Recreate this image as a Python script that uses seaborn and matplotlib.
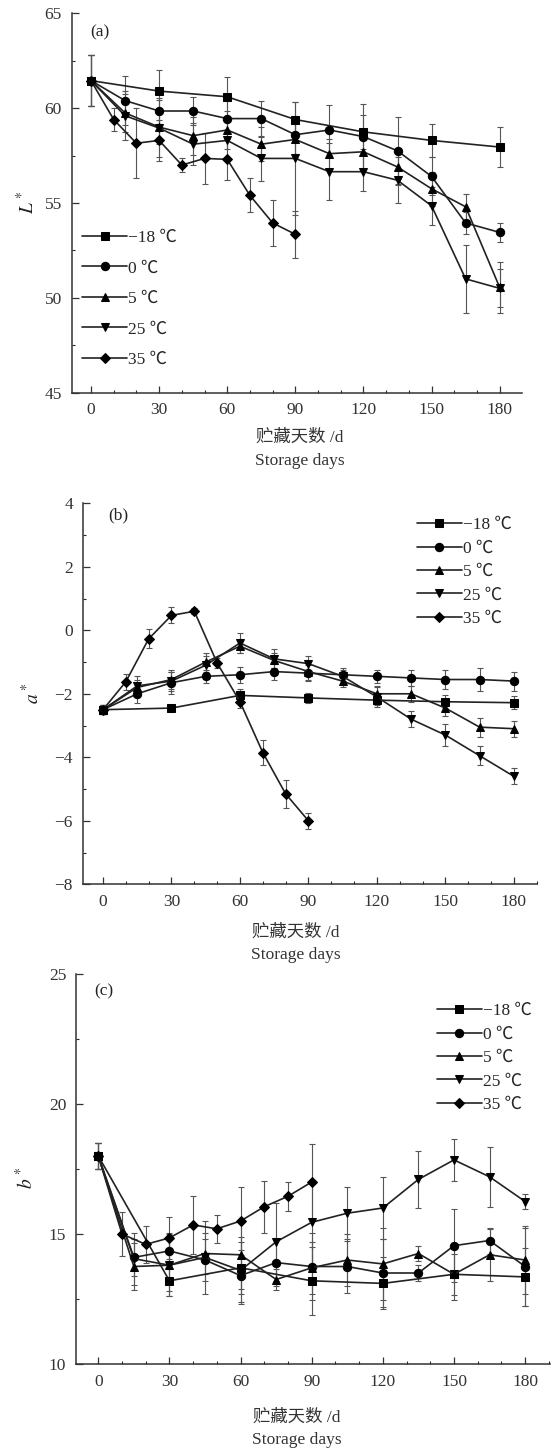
import numpy as np
import pandas as pd
import matplotlib
matplotlib.use("Agg")
import matplotlib.pyplot as plt
from matplotlib.ticker import MultipleLocator
import seaborn as sns

# --- storage days per series ---
DAYS_30 = [0, 30, 60, 90, 120, 150, 180]
DAYS_15 = [0, 15, 30, 45, 60, 75, 90, 105, 120, 135, 150, 165, 180]
DAYS_10 = [0, 10, 20, 30, 40, 50, 60, 70, 80, 90]

LABELS = ["−18 ℃", "0 ℃", "5 ℃", "25 ℃", "35 ℃"]

# --- (a) L* ---
L_M18 = [61.45, 60.9, 60.6, 59.4, 58.75, 58.3, 57.95]
L_0 = [61.45, 60.4, 59.85, 59.85, 59.45, 59.45, 58.6, 58.85, 58.5, 57.75, 56.4, 53.95, 53.45]
L_5 = [61.45, 59.75, 59.0, 58.55, 58.85, 58.1, 58.35, 57.6, 57.7, 56.9, 55.75, 54.8, 50.55]
L_25 = [61.45, 59.6, 58.95, 58.1, 58.3, 57.35, 57.35, 56.65, 56.65, 56.2, 54.85, 51.0, 50.5]
L_35 = [61.45, 59.4, 58.15, 58.3, 57.0, 57.35, 57.3, 55.4, 53.95, 53.35]

L_M18_SD = [1.35, 1.1, 1.05, 0.9, 0.9, 0.85, 1.05]
L_0_SD = [1.35, 1.3, 0.7, 0.75, 1.0, 0.95, 1.0, 1.3, 1.7, 1.8, 1.0, 0.6, 0.5]
L_5_SD = [1.35, 1.0, 0.9, 1.0, 1.0, 0.9, 1.0, 0.8, 0.9, 0.9, 0.9, 0.7, 1.35]
L_25_SD = [1.35, 1.3, 1.5, 1.1, 1.0, 1.2, 3.0, 1.5, 1.0, 1.2, 1.0, 1.8, 1.0]
L_35_SD = [1.35, 0.6, 1.85, 1.1, 0.35, 1.35, 1.1, 0.9, 1.2, 1.25]

# --- (b) a* ---
A_M18 = [-2.5, -2.45, -2.05, -2.13, -2.2, -2.25, -2.28]
A_0 = [-2.5, -2.0, -1.65, -1.45, -1.4, -1.3, -1.35, -1.4, -1.45, -1.5, -1.55, -1.55, -1.6]
A_5 = [-2.5, -1.8, -1.55, -1.0, -0.5, -0.95, -1.3, -1.6, -2.0, -2.0, -2.45, -3.05, -3.1]
A_25 = [-2.5, -1.75, -1.6, -1.1, -0.4, -0.9, -1.05, -1.45, -2.1, -2.8, -3.3, -3.95, -4.6]
A_35 = [-2.5, -1.62, -0.27, 0.47, 0.6, -1.03, -2.25, -3.85, -5.15, -6.0]

A_M18_SD = [0.15, 0.1, 0.2, 0.15, 0.15, 0.2, 0.2]
A_0_SD = [0.15, 0.3, 0.35, 0.2, 0.25, 0.25, 0.25, 0.2, 0.2, 0.25, 0.3, 0.35, 0.3]
A_5_SD = [0.15, 0.25, 0.3, 0.3, 0.2, 0.25, 0.25, 0.2, 0.25, 0.25, 0.25, 0.3, 0.25]
A_25_SD = [0.15, 0.3, 0.3, 0.3, 0.3, 0.3, 0.25, 0.2, 0.3, 0.25, 0.35, 0.3, 0.25]
A_35_SD = [0.15, 0.25, 0.3, 0.25, 0.1, 0.15, 0.2, 0.4, 0.45, 0.25]

# --- (c) b* ---
B_M18 = [18.0, 13.2, 13.7, 13.2, 13.1, 13.45, 13.35]
B_0 = [18.0, 14.1, 14.35, 14.0, 13.4, 13.9, 13.75, 13.75, 13.5, 13.5, 14.55, 14.75, 13.75]
B_5 = [18.0, 13.75, 13.8, 14.25, 14.2, 13.25, 13.7, 14.0, 13.85, 14.25, 13.45, 14.2, 14.0]
B_25 = [18.0, 14.05, 13.8, 14.1, 13.6, 14.7, 15.45, 15.8, 16.0, 17.1, 17.85, 17.2, 16.25]
B_35 = [18.0, 15.0, 14.6, 14.85, 15.35, 15.2, 15.5, 16.05, 16.45, 17.0]

B_M18_SD = [0.5, 0.6, 1.0, 1.3, 1.0, 0.8, 1.1]
B_0_SD = [0.5, 0.7, 0.7, 0.8, 1.0, 0.9, 1.3, 1.0, 1.3, 0.3, 1.4, 0.5, 1.5]
B_5_SD = [0.5, 0.9, 1.0, 0.8, 1.3, 0.4, 1.0, 1.0, 1.4, 0.3, 1.0, 1.0, 1.3]
B_25_SD = [0.5, 1.0, 1.2, 1.4, 1.3, 1.5, 1.6, 1.0, 1.2, 1.1, 0.8, 1.15, 0.3]
B_35_SD = [0.5, 0.85, 0.7, 0.8, 1.1, 0.55, 1.3, 1.0, 0.55, 1.45]

MARKERS = ["s", "o", "^", "v", "D"]
MSIZES = [5.5, 6, 6, 6, 5]
DAYS = [DAYS_30, DAYS_15, DAYS_15, DAYS_15, DAYS_10]

W, H = 554, 1448

sns.set_style("ticks")
plt.rcParams["font.family"] = ["Liberation Serif", "Noto Sans CJK SC", "DejaVu Sans"]
plt.rcParams["mathtext.fontset"] = "stix"

fig = plt.figure(figsize=(W / 100, H / 100), dpi=100)


def px_axes(left, top, right, bottom):
    return fig.add_axes([left / W, 1 - bottom / H, (right - left) / W, (bottom - top) / H])


def draw_panel(ax, series, sds, xlim, ylim, ymaj, ymin, tag, tag_xy, leg_xy, leg_spacing):
    for days, vals, sd, lab, mk, ms in zip(DAYS, series, sds, LABELS, MARKERS, MSIZES):
        df = pd.DataFrame({"day": days, "val": vals})
        ax.errorbar(days, vals, yerr=sd, fmt="none", ecolor="#555555",
                    elinewidth=0.8, capsize=2.3, capthick=0.8, zorder=1)
        sns.lineplot(data=df, x="day", y="val", ax=ax, color="#222222", lw=1.2,
                     marker=mk, markersize=ms, markeredgecolor="black",
                     markerfacecolor="black", label=lab, errorbar=None, zorder=3)
    ax.set_xlim(*xlim)
    ax.set_ylim(*ylim)
    ax.xaxis.set_major_locator(MultipleLocator(30))
    ax.xaxis.set_minor_locator(MultipleLocator(10))
    ax.yaxis.set_major_locator(MultipleLocator(ymaj))
    ax.yaxis.set_minor_locator(MultipleLocator(ymin))
    ax.tick_params(which="major", direction="in", length=5, width=0.9,
                   labelsize=12.5, colors="#333333", pad=7)
    ax.tick_params(which="minor", direction="in", length=2.5, width=0.8)
    ax.set_xlabel("")
    ax.set_ylabel("")
    for s in ["top", "right"]:
        ax.spines[s].set_visible(False)
    for s in ["left", "bottom"]:
        ax.spines[s].set_color("#333333")
        ax.spines[s].set_linewidth(1.1)
    ax.text(tag_xy[0] / W, 1 - tag_xy[1] / H, tag, transform=fig.transFigure,
            fontsize=12.5, ha="center", va="center", color="#222222")
    ax.legend(loc="upper left", bbox_to_anchor=(leg_xy[0] / W, 1 - leg_xy[1] / H),
              bbox_transform=fig.transFigure, frameon=False, fontsize=12.5,
              handlelength=2.6, handletextpad=0.05, labelspacing=leg_spacing,
              borderpad=0, borderaxespad=0)


ax_a = px_axes(71.7, 13.3, 521.7, 392.7)
draw_panel(ax_a, [L_M18, L_0, L_5, L_25, L_35],
           [L_M18_SD, L_0_SD, L_5_SD, L_25_SD, L_35_SD],
           (-8.5, 189.7), (45, 65), 5, 2.5, "(a)", (100, 32), (82, 230), 0.82)

ax_b = px_axes(82.7, 503.3, 536.7, 884.3)
draw_panel(ax_b, [A_M18, A_0, A_5, A_25, A_35],
           [A_M18_SD, A_0_SD, A_5_SD, A_25_SD, A_35_SD],
           (-8.9, 190), (-8, 4), 2, 1, "(b)", (118, 515), (416.7, 517), 0.42)

ax_c = px_axes(76, 974, 550, 1364)
draw_panel(ax_c, [B_M18, B_0, B_5, B_25, B_35],
           [B_M18_SD, B_0_SD, B_5_SD, B_25_SD, B_35_SD],
           (-9.4, 190.5), (10, 25), 5, 2.5, "(c)", (104, 991), (436.7, 1003), 0.42)

# axis titles
for xc, y1, y2 in [(300, 438, 461), (296, 933, 955), (297, 1418, 1440)]:
    fig.text(xc / W, 1 - y1 / H, "贮藏天数 /d", ha="center", va="center",
             fontsize=12.5, color="#333333")
    fig.text(xc / W, 1 - y2 / H, "Storage days", ha="center", va="center",
             fontsize=12.5, color="#333333")

for xc, yc, lab in [(27, 203, r"$L^*$"), (32, 694, r"$a^*$"), (26, 1178, r"$b^*$")]:
    fig.text(xc / W, 1 - yc / H, lab, rotation=90, ha="center", va="center",
             fontsize=14, color="#222222")

fig.savefig("out.png", dpi=100)
